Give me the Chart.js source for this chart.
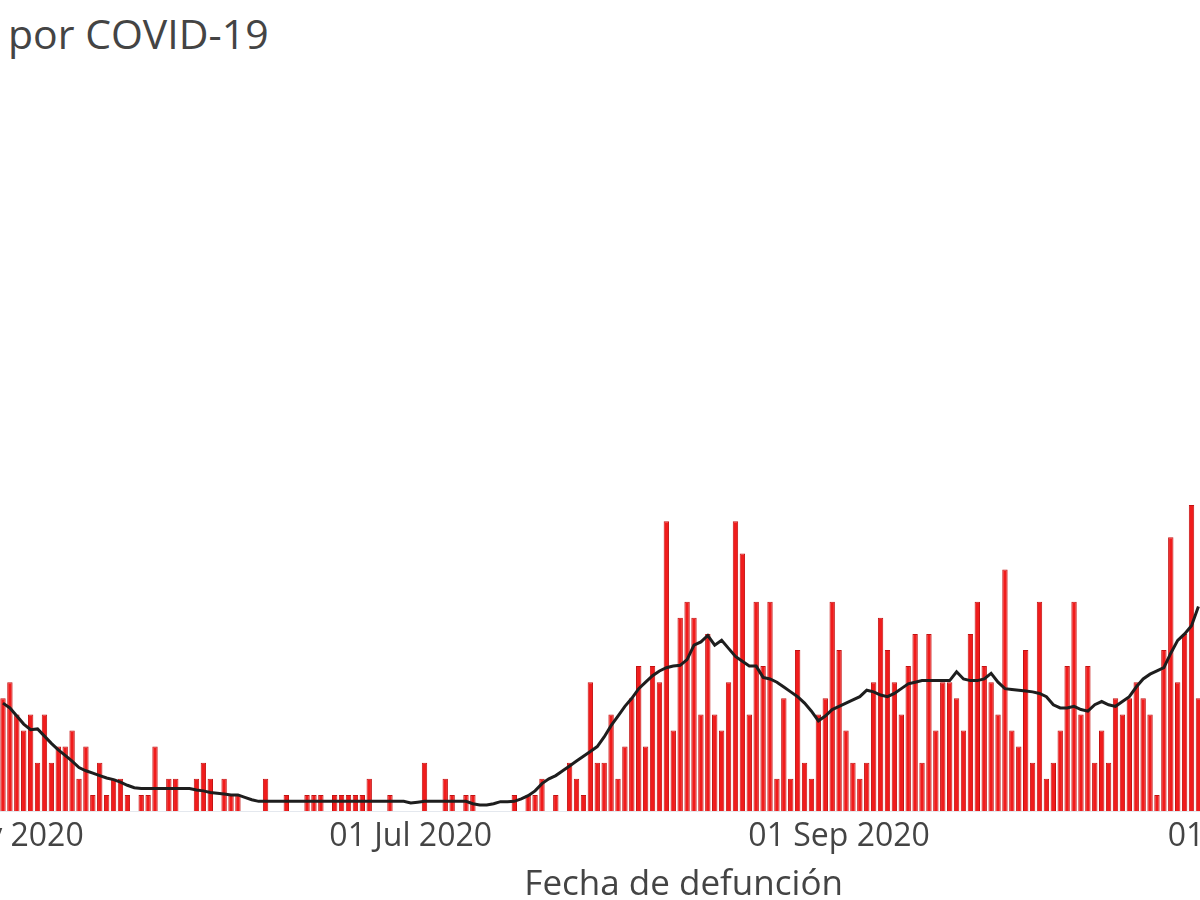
<!DOCTYPE html>
<html>
<head>
<meta charset="utf-8">
<script src="https://cdn.jsdelivr.net/npm/chart.js@4.4.1/dist/chart.umd.min.js"></script>
<style>
  html, body { margin: 0; padding: 0; width: 1200px; height: 900px; overflow: hidden; background: #ffffff; }
  #title { position: absolute; left: 8px; top: 13px; font-family: "Open Sans", sans-serif; font-size: 41px; line-height: 1; color: #444444; white-space: nowrap; }
  #wrap { position: absolute; left: -134px; top: 0; width: 1536px; height: 920px; }
</style>
</head>
<body>
<div id="title">por COVID-19</div>
<div id="wrap"><canvas id="c"></canvas></div>
<script>
// ---- data ----
const axisStart = '2020-05-01';   // first category on the axis
const axisDays = 202;             // number of daily categories on the axis
const firstDate = '2020-05-03';   // first visible bar
const deaths = [
  7, 8, 6, 5, 6, 3, 6, 3, 4, 4,
  5, 2, 4, 1, 3, 1, 2, 2, 1, 0,
  1, 1, 4, 0, 2, 2, 0, 0, 2, 3,
  2, 0, 2, 1, 1, 0, 0, 0, 2, 0,
  0, 1, 0, 0, 1, 1, 1, 0, 1, 1,
  1, 1, 1, 2, 0, 0, 1, 0, 0, 0,
  0, 3, 0, 0, 2, 1, 0, 1, 1, 0,
  0, 0, 0, 0, 1, 0, 1, 1, 2, 0,
  1, 0, 3, 2, 1, 8, 3, 3, 6, 2,
  4, 7, 9, 4, 9, 8, 18, 5, 12, 13,
  12, 6, 11, 6, 5, 8, 18, 16, 6, 13,
  9, 13, 2, 7, 2, 10, 3, 2, 6, 7,
  13, 10, 5, 3, 2, 3, 8, 12, 10, 8,
  6, 9, 11, 3, 11, 5, 8, 8, 7, 5,
  11, 13, 9, 8, 6, 15, 5, 4, 10, 3,
  13, 2, 3, 5, 9, 13, 6, 9, 3, 5,
  3, 7, 6, 7, 8, 7, 6, 1, 10, 17,
  8, 11, 19, 7
];
const avg7 = [
  6.7, 6.4, 5.9, 5.4, 5.05, 5.1, 4.65, 4.2, 3.8, 3.45,
  3.1, 2.7, 2.5, 2.35, 2.2, 2.05, 1.95, 1.8, 1.6, 1.45,
  1.4, 1.4, 1.4, 1.4, 1.4, 1.4, 1.4, 1.4, 1.3, 1.25,
  1.15, 1.1, 1.05, 1.0, 1.0, 0.85, 0.7, 0.6, 0.6, 0.6,
  0.6, 0.6, 0.6, 0.6, 0.6, 0.6, 0.6, 0.6, 0.6, 0.6,
  0.6, 0.6, 0.6, 0.6, 0.6, 0.6, 0.6, 0.6, 0.6, 0.5,
  0.55, 0.6, 0.6, 0.6, 0.6, 0.6, 0.6, 0.6, 0.45, 0.37,
  0.37, 0.45, 0.58, 0.58, 0.6, 0.75, 0.95, 1.25, 1.7, 2.0,
  2.2, 2.5, 2.8, 3.1, 3.4, 3.7, 4.0, 4.6, 5.3, 5.9,
  6.5, 7.0, 7.6, 8.0, 8.4, 8.7, 8.9, 9.0, 9.05, 9.4,
  10.3, 10.5, 10.9, 10.3, 10.6, 10.1, 9.6, 9.3, 9.0, 9.0,
  8.3, 8.2, 8.0, 7.7, 7.4, 7.1, 6.7, 6.2, 5.6, 5.9,
  6.3, 6.5, 6.7, 6.9, 7.1, 7.5, 7.4, 7.2, 7.1, 7.3,
  7.6, 7.9, 8.0, 8.1, 8.1, 8.1, 8.1, 8.1, 8.65, 8.2,
  8.1, 8.1, 8.2, 8.55, 8.0, 7.6, 7.55, 7.5, 7.45, 7.4,
  7.3, 7.1, 6.6, 6.4, 6.4, 6.5, 6.3, 6.2, 6.6, 6.8,
  6.6, 6.5, 6.8, 7.1, 7.7, 8.2, 8.5, 8.7, 8.9, 9.8,
  10.6, 11.0, 11.5, 12.7
];
const tickDates = ['2020-05-01', '2020-07-01', '2020-09-01', '2020-11-01'];
const tickLabels = ['01 May 2020', '01 Jul 2020', '01 Sep 2020', '01 Nov 2020'];
const xTitle = 'Fecha de defunción';

// ---- build categories ----
function isoPlus(iso, n) {
  const d = new Date(iso + 'T00:00:00Z');
  d.setUTCDate(d.getUTCDate() + n);
  return d.toISOString().slice(0, 10);
}
const categories = [];
for (let k = 0; k < axisDays; k++) categories.push(isoPlus(axisStart, k));
const barPts = deaths.map((v, i) => ({ x: isoPlus(firstDate, i), y: v }));
const linePts = avg7.map((v, i) => ({ x: isoPlus(firstDate, i), y: v }));

const font = '"Open Sans", sans-serif';
new Chart(document.getElementById('c'), {
  data: {
    labels: categories,
    datasets: [
      {
        type: 'line', data: linePts, order: 0,
        borderColor: '#1e1e1e', borderWidth: 3, pointRadius: 0, tension: 0, fill: false
      },
      {
        type: 'bar', data: barPts, order: 1,
        backgroundColor: '#f01c1c', borderColor: '#c41212', borderWidth: 1,
        borderSkipped: 'start', categoryPercentage: 1.0, barPercentage: 0.78
      }
    ]
  },
  options: {
    responsive: true, maintainAspectRatio: false, animation: false,
    layout: { padding: { left: 119.72, right: 20.46, top: 86.5, bottom: 13.6 } },
    plugins: { legend: { display: false }, tooltip: { enabled: false }, title: { display: false } },
    scales: {
      x: {
        type: 'category', offset: true,
        grid: { display: false, drawTicks: false, tickLength: 0 },
        border: { display: true, color: '#e4e8ee', width: 1 },
        ticks: {
          autoSkip: false, maxRotation: 0, minRotation: 0, padding: 7,
          color: '#444444', font: { family: font, size: 32, lineHeight: 1.2 },
          callback: function (value) {
            const lab = this.getLabelForValue(value);
            const k = tickDates.indexOf(lab);
            return k >= 0 ? tickLabels[k] : '';
          }
        },
        title: {
          display: true, text: xTitle, color: '#444444',
          font: { family: font, size: 35, lineHeight: 1.2 },
          padding: { top: 1, bottom: 0 }
        }
      },
      y: { display: false, min: 0, max: 45 }
    }
  }
});
</script>
</body>
</html>
